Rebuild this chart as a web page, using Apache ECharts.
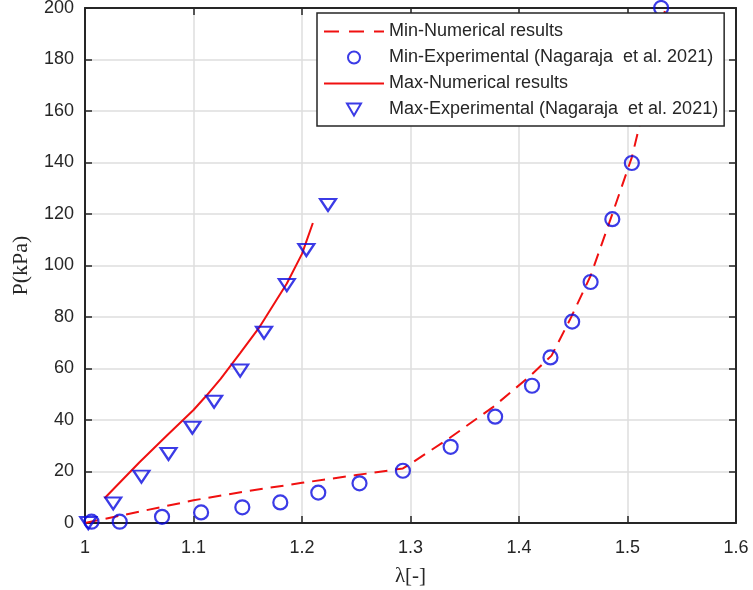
<!DOCTYPE html>
<html><head><meta charset="utf-8">
<script src="https://cdn.jsdelivr.net/npm/echarts@6/dist/echarts.min.js"></script>
<style>html,body{margin:0;padding:0;background:#fff}#c{width:753px;height:590px}</style>
</head><body><div id="c"></div>
<script>
const xTicks = [1, 1.1, 1.2, 1.3, 1.4, 1.5, 1.6];
const yTicks = [0, 20, 40, 60, 80, 100, 120, 140, 160, 180, 200];

const minNumX = [1.0, 1.05, 1.1, 1.15, 1.2, 1.25, 1.293, 1.3, 1.336, 1.376, 1.41, 1.43, 1.447, 1.466, 1.486, 1.504, 1.52, 1.535];
const minNumY = [0, 4.4, 8.8, 12.4, 15.6, 18.6, 21.2, 23, 33, 45, 57, 65, 79, 96, 120, 142, 170, 200];

const minExpX = [1.006, 1.032, 1.071, 1.107, 1.145, 1.18, 1.215, 1.253, 1.293, 1.337, 1.378, 1.412, 1.429, 1.449, 1.466, 1.486, 1.504, 1.531];
const minExpY = [0.5, 0.5, 2.4, 4.1, 6.1, 8.0, 11.8, 15.4, 20.3, 29.6, 41.3, 53.3, 64.3, 78.2, 93.6, 118, 139.8, 200];

const maxNumX = [1.018, 1.05, 1.075, 1.1, 1.112, 1.125, 1.143, 1.161, 1.186, 1.2, 1.21];
const maxNumY = [9.6, 23.5, 33.8, 43.9, 49.5, 56, 66, 76.2, 93, 104.5, 116.5];

const maxExpX = [1.003, 1.026, 1.052, 1.077, 1.099, 1.119, 1.143, 1.165, 1.186, 1.204, 1.224];
const maxExpY = [0, 7.6, 18, 26.8, 37, 47.1, 59.2, 73.9, 92.4, 106, 123.5];

const names = ['Min-Numerical results', 'Min-Experimental (Nagaraja  et al. 2021)', 'Max-Numerical results', 'Max-Experimental (Nagaraja  et al. 2021)'];

const zip = (a, b) => a.map((v, i) => [v, b[i]]);
const RED = '#f01010', BLUE = '#0a0ae0', AX = '#262626';
const noSym = {color: 'rgba(0,0,0,0)', borderColor: 'rgba(0,0,0,0)', borderWidth: 0};

const chart = echarts.init(document.getElementById('c'), null, {renderer: 'canvas'});
const axFont = {fontFamily: 'Liberation Sans, Arial, sans-serif', fontSize: 18, color: AX};
const tickStyle = {show: true, inside: true, length: 7, lineStyle: {color: AX, width: 1.5}};
chart.setOption({
  animation: false,
  backgroundColor: '#fff',
  grid: {left: 85, right: 17, top: 8, bottom: 67, containLabel: false, outerBoundsMode: 'none'},
  xAxis: [{
    type: 'value', min: 1, max: 1.6, interval: 0.1,
    axisLine: {show: true, lineStyle: {color: AX, width: 2}},
    axisTick: tickStyle,
    axisLabel: Object.assign({margin: 16, formatter: v => String(+v.toFixed(1))}, axFont),
    splitLine: {show: true, lineStyle: {color: '#dedede', width: 1.5}},
    name: 'λ[-]', nameLocation: 'middle', nameGap: 43,
    nameTextStyle: {fontFamily: 'Liberation Serif, Times New Roman, serif', fontSize: 21, color: AX}
  }, {
    type: 'value', position: 'top', min: 1, max: 1.6, interval: 0.1,
    axisLine: {show: true, onZero: false, lineStyle: {color: AX, width: 2}},
    axisTick: tickStyle, axisLabel: {show: false}, splitLine: {show: false}
  }],
  yAxis: [{
    type: 'value', min: 0, max: 200, interval: 20,
    axisLine: {show: true, lineStyle: {color: AX, width: 2}},
    axisTick: tickStyle,
    axisLabel: Object.assign({margin: 11}, axFont),
    splitLine: {show: true, lineStyle: {color: '#dedede', width: 1.5}},
    name: 'P(kPa)', nameLocation: 'middle', nameGap: 53,
    nameTextStyle: {fontFamily: 'Liberation Serif, Times New Roman, serif', fontSize: 22, color: AX}
  }, {
    type: 'value', position: 'right', min: 0, max: 200, interval: 20,
    axisLine: {show: true, onZero: false, lineStyle: {color: AX, width: 2}},
    axisTick: tickStyle, axisLabel: {show: false}, splitLine: {show: false}
  }],
  legend: {
    orient: 'vertical', left: 317, top: 13,
    padding: [8, 6, 6, 6],
    backgroundColor: '#fff', borderColor: AX, borderWidth: 1.5, borderRadius: 0,
    itemWidth: 60, itemHeight: 12, itemGap: 5, symbolKeepAspect: true,
    textStyle: {fontFamily: 'Liberation Sans, Arial, sans-serif', fontSize: 18, color: AX, lineHeight: 21},
    data: [
      {name: names[0], itemStyle: noSym, lineStyle: {type: [15, 10]}},
      {name: names[1]},
      {name: names[2], itemStyle: noSym},
      {name: names[3], icon: 'path://M0,0L14,0L7,12Z'}
    ]
  },
  series: [{
    name: names[0], type: 'line', data: zip(minNumX, minNumY), symbol: 'none',
    lineStyle: {color: RED, width: 2, type: [13, 8]}, itemStyle: {color: RED}, z: 2
  }, {
    name: names[1], type: 'scatter', data: zip(minExpX, minExpY), symbol: 'circle', symbolSize: 14, clip: false,
    itemStyle: {color: 'rgba(0,0,0,0)', borderColor: BLUE, borderWidth: 2.2}, z: 3
  }, {
    name: names[2], type: 'line', data: zip(maxNumX, maxNumY), symbol: 'none',
    lineStyle: {color: RED, width: 2}, itemStyle: {color: RED}, z: 2
  }, {
    name: names[3], type: 'scatter', data: zip(maxExpX, maxExpY), symbol: 'triangle', symbolRotate: 180, symbolSize: [16, 12], clip: false,
    itemStyle: {color: 'rgba(0,0,0,0)', borderColor: BLUE, borderWidth: 2.2}, z: 3
  }]
});
</script></body></html>
